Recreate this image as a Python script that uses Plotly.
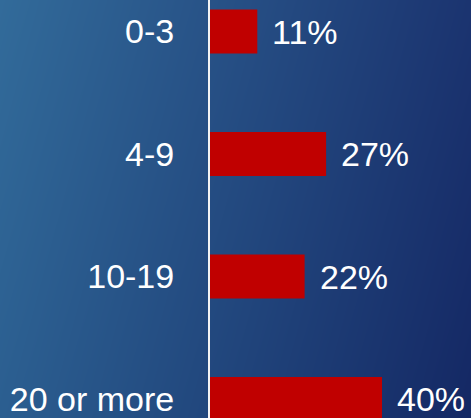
import base64
import struct
import zlib

import numpy as np
import plotly.graph_objects as go

# Share of respondents by group
categories = ["0-3", "4-9", "10-19", "20 or more"]
shares = [11, 27, 22, 40]
share_labels = ["11%", "27%", "22%", "40%"]

W, H = 471, 418
LEFT = 210
BAR_COLOR = "#c00000"
FONT = "Liberation Sans, Arial, sans-serif"


def gradient_png(width, height):
    """Blue backdrop, lighter at the top-left and deep navy towards the right."""
    tl = np.array([50, 107, 154], float)
    tr = np.array([27, 52, 112], float)
    bl = np.array([43, 94, 144], float)
    br = np.array([20, 40, 100], float)
    u = np.linspace(0, 1, width)[None, :, None]
    v = np.linspace(0, 1, height)[:, None, None]
    top = tl * (1 - u) + tr * u
    bot = bl * (1 - u) + br * u
    img = (top * (1 - v) + bot * v).round().clip(0, 255).astype(np.uint8)
    raw = b"".join(b"\x00" + img[r].tobytes() for r in range(height))

    def chunk(tag, data):
        return (struct.pack(">I", len(data)) + tag + data
                + struct.pack(">I", zlib.crc32(tag + data) & 0xFFFFFFFF))

    png = (b"\x89PNG\r\n\x1a\n"
           + chunk(b"IHDR", struct.pack(">IIBBBBB", width, height, 8, 2, 0, 0, 0))
           + chunk(b"IDAT", zlib.compress(raw, 9))
           + chunk(b"IEND", b""))
    return "data:image/png;base64," + base64.b64encode(png).decode()


plot_w = W - LEFT
px_per_pct = 4.3
spacing = 122.5
first_center = 31.5

fig = go.Figure(
    go.Bar(
        x=shares,
        y=categories,
        orientation="h",
        marker=dict(color=BAR_COLOR, line=dict(width=0)),
        width=0.36,
        hoverinfo="skip",
    )
)

for cat, val, lab in zip(categories, shares, share_labels):
    fig.add_annotation(
        x=val, y=cat, text=lab, showarrow=False,
        xanchor="left", yanchor="middle", xshift=13,
        font=dict(family=FONT, size=34, color="white"),
    )

fig.update_layout(
    width=W,
    height=H,
    margin=dict(l=LEFT, r=0, t=0, b=0),
    paper_bgcolor="rgba(0,0,0,0)",
    plot_bgcolor="rgba(0,0,0,0)",
    showlegend=False,
    images=[dict(
        source=gradient_png(W, H),
        xref="paper", yref="paper",
        x=-LEFT / plot_w, y=1,
        sizex=W / plot_w, sizey=1,
        xanchor="left", yanchor="top",
        sizing="stretch", layer="below",
    )],
    xaxis=dict(
        range=[0, plot_w / px_per_pct],
        showgrid=False, zeroline=False, showticklabels=False,
        showline=False, fixedrange=True,
    ),
    yaxis=dict(
        categoryorder="array",
        categoryarray=categories,
        range=[(H - first_center) / spacing, -first_center / spacing],
        showgrid=False, zeroline=False,
        showline=True, linecolor="#f4f4f4", linewidth=2,
        ticks="", ticklabelstandoff=27,
        tickfont=dict(family=FONT, size=34, color="white"),
        fixedrange=True,
    ),
)

fig.write_html("out.html")
